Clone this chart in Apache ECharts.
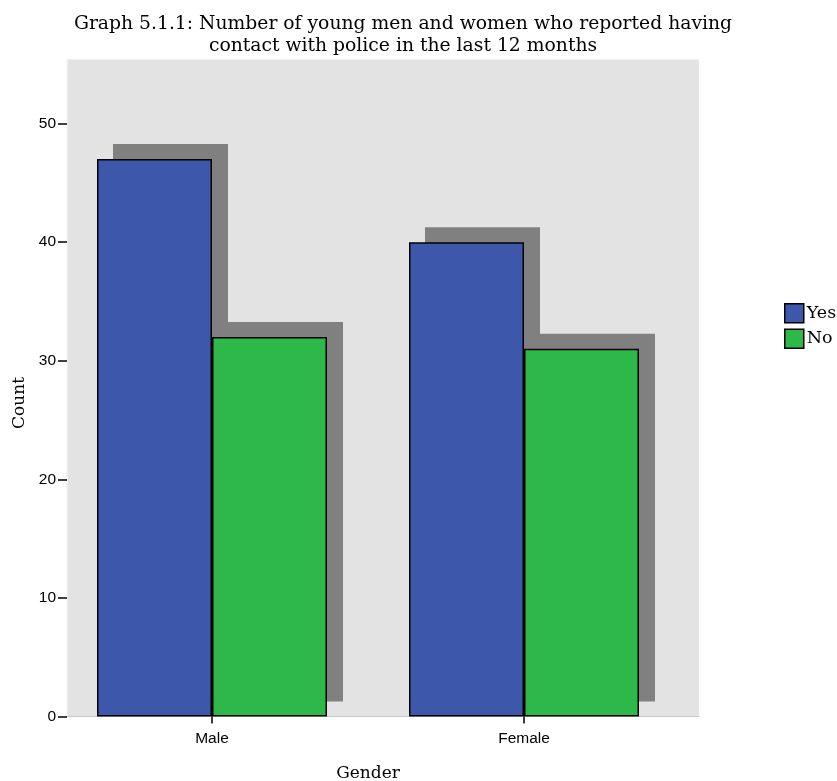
<!DOCTYPE html>
<html>
<head>
<meta charset="utf-8">
<script src="https://cdn.jsdelivr.net/npm/echarts@6/dist/echarts.min.js"></script>
<style>html,body{margin:0;padding:0;background:#fff;}#main{width:837px;height:781px;}</style>
</head>
<body>
<div id="main"></div>
<script>
const categories = ['Male', 'Female'];
const yesValues = [47, 40];
const noValues = [32, 31];
const yTicks = [0, 10, 20, 30, 40, 50];

const serif = 'DejaVu Serif';
const sans = 'Liberation Sans';
const chart = echarts.init(document.getElementById('main'), null, {renderer: 'canvas'});
const barStyle = (color) => ({color: color, borderColor: '#000', borderWidth: 1.5});
const shadowStyle = {color: '#808080', borderWidth: 0};
const yMax = 55.4;
chart.setOption({
  animation: false,
  title: {
    text: 'Graph 5.1.1: Number of young men and women who reported having\ncontact with police in the last 12 months',
    left: 398,
    textAlign: 'center',
    top: 8,
    textStyle: {fontFamily: serif, fontWeight: 'normal', fontSize: 18.75, lineHeight: 22, color: '#000'}
  },
  legend: {
    orient: 'vertical',
    left: 784,
    top: 303,
    padding: 0,
    itemWidth: 19,
    itemHeight: 19,
    itemGap: 5,
    icon: 'rect',
    data: ['Yes', 'No'],
    itemStyle: {borderColor: '#000', borderWidth: 1.5},
    textStyle: {fontFamily: serif, fontSize: 17.5, color: '#000', padding: [0, 0, 0, -2]}
  },
  grid: [
    {left: 67, top: 59.5, width: 632, height: 657, show: true, backgroundColor: '#e3e3e3', borderWidth: 0, outerBoundsMode: 'none', containLabel: false},
    {left: 56, top: 59.5, width: 624, height: 657, outerBoundsMode: 'none', containLabel: false},
    {left: 72, top: 44.5, width: 624, height: 657, outerBoundsMode: 'none', containLabel: false}
  ],
  xAxis: [
    {type: 'value', gridIndex: 0, min: 0, max: 1, axisLine: {show: true, lineStyle: {color: '#c8c8c8', width: 1}}, axisTick: {show: false}, axisLabel: {show: false}, splitLine: {show: false}},
    {type: 'category', gridIndex: 1, data: categories,
      axisLine: {show: false},
      axisTick: {show: true, alignWithLabel: true, length: 7, lineStyle: {color: '#000', width: 1.5}},
      axisLabel: {fontFamily: sans, fontSize: 15.5, color: '#000', margin: 14},
      name: 'Gender', nameLocation: 'middle', nameGap: 49,
      nameTextStyle: {fontFamily: serif, fontSize: 17, color: '#000'}
    },
    {type: 'category', gridIndex: 2, data: categories, show: false}
  ],
  yAxis: [
    {type: 'value', gridIndex: 0, min: 0, max: yMax,
      axisLine: {show: true, lineStyle: {color: '#f4f4f4', width: 1.5}},
      axisTick: {show: true, length: 9, customValues: yTicks, lineStyle: {color: '#000', width: 1.5}},
      axisLabel: {fontFamily: sans, fontSize: 15.5, color: '#000', margin: 11, customValues: yTicks, padding: [6, 0, 0, 0]},
      splitLine: {show: false},
      name: 'Count', nameLocation: 'middle', nameGap: 37,
      nameTextStyle: {fontFamily: serif, fontSize: 17, color: '#000', padding: [0, 30, 0, 0]}
    },
    {type: 'value', gridIndex: 1, min: 0, max: yMax, show: false},
    {type: 'value', gridIndex: 2, min: 0, max: yMax, show: false}
  ],
  series: [
    {name: 'Yes shadow', type: 'bar', xAxisIndex: 2, yAxisIndex: 2, data: yesValues, barWidth: 115, barGap: '0%', itemStyle: shadowStyle, silent: true},
    {name: 'No shadow', type: 'bar', xAxisIndex: 2, yAxisIndex: 2, data: noValues, barWidth: 115, barGap: '0%', itemStyle: shadowStyle, silent: true},
    {name: 'Yes', type: 'bar', xAxisIndex: 1, yAxisIndex: 1, data: yesValues, barWidth: 115, barGap: '0%', itemStyle: barStyle('#3d58aa')},
    {name: 'No', type: 'bar', xAxisIndex: 1, yAxisIndex: 1, data: noValues, barWidth: 115, barGap: '0%', itemStyle: barStyle('#2eb84a')}
  ]
});
</script>
</body>
</html>
